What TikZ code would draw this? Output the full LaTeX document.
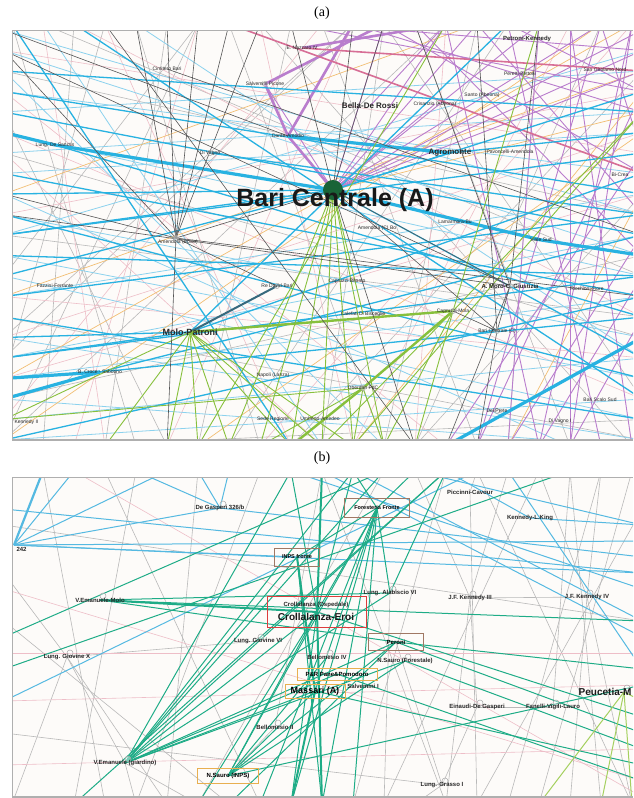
\documentclass[tikz,border=0pt]{standalone}
\usepackage{fontspec}
\setmainfont{Liberation Serif}
\newfontfamily\lsans{Liberation Sans}
\begin{document}
\definecolor{cyA}{RGB}{40,178,225}
\definecolor{cyL}{RGB}{140,210,238}
\definecolor{cyB}{RGB}{85,185,225}
\definecolor{puA}{RGB}{185,125,205}
\definecolor{pkL}{RGB}{238,190,200}
\definecolor{pkA}{RGB}{215,110,150}
\definecolor{orA}{RGB}{242,190,115}
\definecolor{gnA}{RGB}{135,192,60}
\definecolor{gnL}{RGB}{165,208,95}
\definecolor{dgA}{RGB}{85,85,85}
\definecolor{lgA}{RGB}{185,185,185}
\definecolor{teA}{RGB}{30,172,135}
\definecolor{slA}{RGB}{55,105,125}
\definecolor{bgP}{RGB}{253,251,249}
\definecolor{frA}{RGB}{175,175,175}
\definecolor{bcG}{RGB}{25,100,55}
\definecolor{brA}{RGB}{160,120,100}
\definecolor{rdA}{RGB}{220,60,60}
\definecolor{ogA}{RGB}{232,175,80}
\tikzset{
  eca/.style={draw=cyA, line width=3.2pt},
  ecm/.style={draw=cyA, line width=1.3pt},
  ecl/.style={draw=cyL, line width=0.8pt},
  epu/.style={draw=puA, line width=0.9pt},
  epuT/.style={draw=puA, line width=2.6pt},
  epk/.style={draw=pkL, line width=0.6pt},
  epkT/.style={draw=pkA, line width=1.6pt},
  eor/.style={draw=orA, line width=0.7pt},
  egn/.style={draw=gnA, line width=0.9pt},
  egnT/.style={draw=gnA, line width=2.4pt},
  edk/.style={draw=dgA, line width=0.6pt},
  elg/.style={draw=lgA, line width=0.6pt},
  ete/.style={draw=teA, line width=1pt},
  eteT/.style={draw=teA, line width=2pt},
  ecb/.style={draw=cyB, line width=1pt},
  ecbT/.style={draw=cyB, line width=2.2pt},
  egl/.style={draw=gnL, line width=1pt},
  esl/.style={draw=slA, line width=2pt},
  hub/.style={draw=gray!70, line width=0.5pt, fill=white, fill opacity=0.4},
  lbl/.style={font=\lsans\fontsize{5}{6}\selectfont, inner sep=0.3pt, text=black!85},
  lblb/.style={font=\lsans\bfseries\fontsize{6}{7}\selectfont, inner sep=0.3pt, text=black!85},
  lblm/.style={font=\lsans\bfseries\fontsize{8}{9}\selectfont, inner sep=0.3pt, text=black!85},
  lblL/.style={font=\lsans\bfseries\fontsize{10}{11}\selectfont, inner sep=0.3pt, text=black!90},
  bxbr/.style={draw=brA, line width=0.8pt, inner sep=0pt},
  bxrd/.style={draw=rdA, line width=0.9pt, inner sep=0pt},
  bxog/.style={draw=ogA, line width=0.9pt, inner sep=0pt},
  capt/.style={font=\fontsize{14}{16}\selectfont, inner sep=0pt}
}
\begin{tikzpicture}[x=1pt,y=-1pt]
\useasboundingbox (0,0) rectangle (633,798);
\fill[white] (0,0) rectangle (633,798);

\node[capt] (capa) at (322,13) {(a)};
\node[capt] (capb) at (322,458) {(b)};

% border anchors for both panels
\foreach \i in {0,...,20}{
  \coordinate (aT\i) at ({12+31*\i},24);
  \coordinate (aB\i) at ({12+31*\i},446);
  \coordinate (aL\i) at (4,{30+20.5*\i});
  \coordinate (aR\i) at (642,{30+20.5*\i});
  \coordinate (bT\i) at ({12+31*\i},471);
  \coordinate (bB\i) at ({12+31*\i},804);
  \coordinate (bL\i) at (4,{477+16*\i});
  \coordinate (bR\i) at (642,{477+16*\i});
}

% ---------------- panel (a): stations ----------------
\coordinate (bc) at (333,190);
\coordinate (ena) at (302,48);
\coordinate (ptk) at (527,39);
\coordinate (cim) at (167,69);
\coordinate (sal) at (265,84);
\coordinate (dam) at (288,136);
\coordinate (bdr) at (370,106);
\coordinate (cri) at (435,104);
\coordinate (san) at (482,95);
\coordinate (pbe) at (520,74);
\coordinate (sgn) at (605,70);
\coordinate (lds) at (55,145);
\coordinate (dv) at (210,153);
\coordinate (agr) at (450,153);
\coordinate (pam) at (510,152);
\coordinate (bcr) at (620,175);
\coordinate (amc) at (377,228);
\coordinate (lam) at (455,222);
\coordinate (amb) at (176,238);
\coordinate (faf) at (55,286);
\coordinate (rdb) at (277,286);
\coordinate (molo) at (190,332);
\coordinate (bcs) at (100,372);
\coordinate (nap) at (273,375);
\coordinate (ken) at (20,422);
\coordinate (sed) at (273,419);
\coordinate (uma) at (320,419);
\coordinate (cbi) at (347,281);
\coordinate (cdb) at (363,314);
\coordinate (cmo) at (453,311);
\coordinate (bcc) at (497,331);
\coordinate (amo) at (510,286);
\coordinate (rif) at (587,289);
\coordinate (vsu) at (541,240);
\coordinate (obe) at (363,388);
\coordinate (bss) at (600,400);
\coordinate (dpr) at (497,411);
\coordinate (dvi) at (560,421);

\begin{scope}
\clip (12,30) rectangle (633,440);
\fill[bgP] (12,30) rectangle (633,440);
% faint grey mesh
\foreach \p/\q in {aT0/aB4,aT2/aB1,aT4/aB8,aT5/aB3,aT7/aB12,aT9/aB6,aT10/aB15,aT12/aB10,aT13/aB18,aT15/aB12,aT17/aB16,aT19/aB13,aL2/aR9,aL6/aR15,aL10/aR14,aL14/aR20,aL18/aR11,aL4/aB5,aL12/aT6,aL16/aT11,aL20/aT14,aR2/aB9,aR8/aB13,aR18/aT12,aT1/aR12,aT3/aL17,aT6/aL20,aT11/aL15,aB2/aR19,aT8/aB20,aT16/aB7}
  \draw[elg] (\p) -- (\q);
% faint pink mesh
\foreach \p/\q in {aT1/aB3,aT3/aB9,aT6/aB2,aT8/aB11,aT11/aB5,aT14/aB13,aT18/aB11,aL1/aR6,aL5/aR18,aL9/aR3,aL13/aR16,aL17/aR8,aL19/aT10,aT20/aB8,aT2/aR14,aL3/aB14,aL6/aB10,aL15/aR5}
  \draw[epk] (\p) -- (\q);
% light blue lines
\foreach \p/\q in {aL1/aR11,aL3/aR7,aL5/aR12,aL7/aR5,aL9/aR15,aL11/aR17,aL13/aR8,aL15/aR20,aL17/aR13,aL19/aR16,aL0/aR9,aL4/aR2,aL8/aB18,aL12/aR19,aL16/aR10,aL20/aR18,aT4/aR16,aT1/aB10,aL6/aR4,aL18/aB20,aL2/aB12,aL10/aR1}
  \draw[ecl] (\p) -- (\q);
% orange lines
\foreach \p/\q in {aL13/aR2,aL17/aT20,aB6/aR5,aL8/aT15,aB11/aR3,aL20/aT19,aB16/aR8,bc/aR4}
  \draw[eor] (\p) -- (\q);
% lilac lines
\foreach \p/\q in {aT14/aB17,aT16/aB19,aT18/aB18,aT19/aB15,aR10/aB16,aT20/aB18,aR6/aB14,aT12/aR7,aT15/aR9,aT11/aR4,aT17/aB16,aR12/aB17,aR3/aB15,aT13/aR11,aT9/aR3,aT10/aR1,aT20/aB17,aT18/aB20,aR14/aB18,aT16/aR3,aT19/aR6}
  \draw[epu] (\p) -- (\q);
\foreach \t in {aT12,aT14,aT15,aT17,aT19,aR0,aR1,aR2,sal,cri}
  \draw[epu] (bc) -- (\t);
\draw[epuT] (dam) -- (aT11);
\draw[epuT] (sal) -- (aT12);
\draw[epuT] (bc) -- (dam);
\draw[epuT] (sal) -- (dam);
\draw[epuT] (ena) -- (aT14);
\draw[epu] (bdr) -- (aT14);
\draw[epkT] (aT7) -- (aR7);
\draw[epkT] (ena) -- (aR2);
% blue lines
\foreach \p/\q in {aL3/aR8,aL4/aR10,aL7/aR13,aL9/aR17,aL10/aR6,aL13/aR9,aL14/aR19,aL16/aR12,aL20/aR13,aL2/aR4,aT2/aR18,aT0/aB9,aL11/aR12,bc/aL8,bc/aL12,bc/aR3,bc/aR16,bc/aL10,molo/aT16,molo/aR7,molo/aL15,molo/aL16,bcs/aR14,dv/aR9,lds/aR14,agr/aR5,bc/agr,bcs/aR10}
  \draw[ecm] (\p) -- (\q);
\draw[eca] (aL5) -- (lds);
\draw[eca] (lds) -- (bc);
\draw[eca] (dam) -- (agr);
\draw[eca] (bc) -- (vsu);
\draw[eca] (vsu) -- (aR11);
\draw[eca] (bcs) -- (aL17);
\draw[eca] (bcs) -- (aL18);
\draw[eca] (aB14) -- (aR15);
\draw[esl] (molo) -- (rdb);
% green lines
\foreach \t in {aB7,aB8,aB9,aB10,aB11,aB12,cdb}
  \draw[egn] (bc) -- (\t);
\foreach \t in {aB3,aB5,aB6,aB7,aB9,aB10,aB11,aL19}
  \draw[egn] (molo) -- (\t);
\foreach \t in {aB10,aB12,aB13,aT17,aR4}
  \draw[egn] (cmo) -- (\t);
\foreach \t in {aB8,aB11,aB12,aL19}
  \draw[egn] (obe) -- (\t);
\draw[egn] (aT14) -- (aB6);
\draw[egn] (aR4) -- (aB11);
\draw[egnT] (molo) -- (cmo);
\draw[egnT] (cmo) -- (obe);
\draw[egnT] (obe) -- (aB9);
% dark grey lines
\foreach \t in {aT4,aT5,aT6,aT7,aT8,bc,aL8,rdb,aR13,aB5,aL1}
  \draw[edk] (amb) -- (\t);
\foreach \t in {amo,bcc,aT9,aT11,aB13,aT12}
  \draw[edk] (bc) -- (\t);
\foreach \t in {aT13,aT17,bcc,aB14,aL9}
  \draw[edk] (amo) -- (\t);
\draw[edk] (bcc) -- (aB15);
\draw[edk] (bcc) -- (aT15);
\draw[edk] (dam) -- (aL0);
\draw[edk] (aT3) -- (aB13);
\draw[edk] (cim) -- (aR10);
\draw[edk] (aL1) -- (amo);
\draw[edk] (cmo) -- (bcc);
% station rings
\foreach \s in {amb,dv,sal,san,cmo,bcc,amo,obe,rdb,dpr}
  \draw[hub] (\s) circle[radius=2.5pt];
\end{scope}
\draw[frA, line width=0.8pt] (12,440) -- (12,30) -- (633,30);
\draw[frA, line width=1.2pt] (12,440) -- (633,440);

\fill[bcG] (bc) circle[radius=10pt];
\node[font=\lsans\bfseries\fontsize{25}{28}\selectfont, inner sep=0pt, text=black!90] (lbc) at (335,200) {Bari Centrale (A)};
\node[lbl] (lena) at (ena) {E. Nazzaro IV};
\node[lblb] (lptk) at (ptk) {Petroni-Kennedy};
\node[lbl] (lcim) at (cim) {Cimitero Bari};
\node[lbl] (lsal) at (sal) {Salvemini Picone};
\node[lbl] (ldam) at (dam) {Dante-Amodio};
\node[lblm] (lbdr) at (bdr) {Bella-De Rossi};
\node[lbl] (lcri) at (cri) {Crisanzio (Abeona)};
\node[lbl] (lsan) at (san) {Santo (Abeona)};
\node[lbl] (lpbe) at (pbe) {Peretti-Bettoni};
\node[lbl] (lsgn) at (sgn) {San Girolamo Nord};
\node[lbl] (llds) at (lds) {Lung. De Sanctis};
\node[lbl] (ldv) at (dv) {Di Vagno};
\node[lblm] (lagr) at (agr) {Agromonte};
\node[lbl] (lpam) at (pam) {Pavoncelli-Amendola};
\node[lbl] (lbcr) at (bcr) {Bi-Crea};
\node[lbl] (lamc) at (amc) {Amendola (C) Bo};
\node[lbl] (llam) at (lam) {Lamarmora-Bu};
\node[lbl] (lamb) at (178,242) {Amendola (Bovio)};
\node[lbl] (lfaf) at (faf) {Fazzini-Ferrante};
\node[lbl] (lrdb) at (rdb) {Re David-Bari};
\node[font=\lsans\bfseries\fontsize{9}{10}\selectfont, inner sep=0.3pt, text=black!85] (lmolo) at (molo) {Molo-Patroni};
\node[lbl] (lbcs) at (bcs) {B. Croce - Sabotino};
\node[lbl] (lnap) at (nap) {Napoli (Lanza)};
\node[lbl, anchor=west] (lken) at (14,422) {Kennedy II};
\node[lbl] (lsed) at (sed) {Sede Regione};
\node[lbl] (luma) at (uma) {Umberto-Amedeo};
\node[lbl] (lcbi) at (cbi) {Capruzzi-Bitonto};
\node[lbl] (lcdb) at (cdb) {Calefati Di Bisceglie};
\node[lbl] (lcmo) at (cmo) {Capruzzi-Mola};
\node[lbl] (lbcc) at (bcc) {Bari Centrale (C)};
\node[lblb] (lamo) at (amo) {A. Moro-C. Giustizia};
\node[lbl] (lrif) at (rif) {Ricchioni-Fiore};
\node[lbl] (lvsu) at (vsu) {Viale Sud};
\node[lbl] (lobe) at (obe) {Oberdan PdC};
\node[lbl] (lbss) at (bss) {Bari Scalo Sud};
\node[lbl] (ldpr) at (dpr) {Del Prete};
\node[lbl] (ldvi) at (dvi) {Di Vagno I};

% ---------------- panel (b): stations ----------------
\coordinate (dgs) at (220,508);
\coordinate (n242) at (14,545);
\coordinate (inps) at (297,557);
\coordinate (ffr) at (377,508);
\coordinate (pci) at (470,492);
\coordinate (kki) at (530,518);
\coordinate (la6) at (390,593);
\coordinate (jk3) at (470,598);
\coordinate (jk4) at (587,597);
\coordinate (cro) at (317,612);
\coordinate (vem) at (100,600);
\coordinate (lg6) at (258,641);
\coordinate (lgx) at (67,657);
\coordinate (per) at (396,642);
\coordinate (bel4) at (327,657);
\coordinate (nsf) at (405,661);
\coordinate (ppo) at (337,674);
\coordinate (sal1) at (363,686);
\coordinate (mas) at (315,691);
\coordinate (peu) at (624,692);
\coordinate (edg) at (477,707);
\coordinate (fvl) at (553,707);
\coordinate (bel2) at (275,727);
\coordinate (veg) at (125,763);
\coordinate (nsi) at (228,776);
\coordinate (lg1) at (442,785);

\begin{scope}
\clip (12,477) rectangle (633,797);
\fill[bgP] (12,477) rectangle (633,797);
\foreach \p/\q in {bT4/bB2,bT6/bB5,bT1/bB3,bT3/bB8,bT8/bB4,bT12/bB6,bT14/bB11,bT17/bB12,bT19/bB16,bL3/bR9,bL9/bB7,bT10/bB14,bT15/bB20,bT20/bB17,bR2/bB15,bT18/bB19,lgx/bB0,lgx/veg,lgx/lg6,lgx/bB5,lgx/bL6,veg/bB4,veg/bB6,jk3/bT13,jk3/bT16,jk3/edg,jk3/jk4,jk3/bB14,jk4/bT19,jk4/bB18,jk4/bB20,jk4/bT17,edg/lg1,edg/fvl,fvl/bT18,lg1/bB13,lg1/per,lg1/bL16,pci/bT15,pci/bB15,bel2/nsi,bel2/bT10,la6/bB12}
  \draw[elg] (\p) -- (\q);
\foreach \p/\q in {bL11/bR11,bL18/bR17,bL14/bR13,bT2/bR20,bL7/bR19}
  \draw[epk] (\p) -- (\q);
\foreach \p/\q in {n242/dgs,n242/bT2,n242/bT5,n242/bR4,n242/bR6,n242/inps,dgs/bT6,dgs/bT7,dgs/bT4,dgs/bR5,bL2/bR6,bT10/bR10,bT13/bR3,bT15/bL14,kki/bT14,kki/bR3,bT9/bR7,bT11/bR9,bT16/bR12}
  \draw[ecb] (\p) -- (\q);
\draw[ecbT] (n242) -- (bT1);
\foreach \t in {la6,per,bR9}
  \draw[ete] (vem) -- (\t);
\foreach \t in {cro,inps,per,nsf,la6,bT9,bT11,bT12,mas,ppo,bT14}
  \draw[ete] (veg) -- (\t);
\foreach \t in {cro,per,nsf,mas,bel4,ffr,bR13}
  \draw[ete] (nsi) -- (\t);
\foreach \t in {cro,mas,bB9,bB10,bB8,inps,bB11,bT11,bT13}
  \draw[ete] (ffr) -- (\t);
\foreach \p/\q in {inps/bB10,cro/bB9,cro/bT11,cro/bT9,per/bR16,nsf/bR17,mas/bR18,cro/bR15,ppo/bR19,per/bR12,bB2/bT14,bL12/bT18,bL10/bT12,la6/bT14,la6/ffr,bB6/cro,bB7/per}
  \draw[ete] (\p) -- (\q);
\draw[eteT] (vem) -- (cro);
\draw[eteT] (inps) -- (mas);
\draw[eteT] (cro) -- (bB10);
\draw[eteT] (mas) -- (bB9);
\draw[eteT] (cro) -- (bT10);
\foreach \t in {bB17,bB19,bB20,bR14}
  \draw[egl] (peu) -- (\t);
\foreach \s in {vem,lgx,lg6,jk3,jk4,dgs,edg,fvl,peu,lg1,nsf,la6,bel2,veg,bel4}
  \draw[hub] (\s) ++(3,-4) circle[radius=3pt];
\end{scope}
\draw[frA, line width=0.8pt] (12,797) -- (12,477) -- (633,477);
\draw[frA, line width=1.2pt] (12,797) -- (633,797);

\node[lblb] (ldgs) at (dgs) {De Gasperi 326/b};
\node[lblb, anchor=west] (ln242) at (16,549) {242};
\node[bxbr, minimum width=45pt, minimum height=18pt, font=\lsans\bfseries\fontsize{5.5}{6}\selectfont] (linps) at (inps) {INPS fronte};
\node[bxbr, minimum width=65pt, minimum height=19pt, font=\lsans\bfseries\fontsize{5.5}{6}\selectfont] (lffr) at (ffr) {Foresteria Fronte};
\node[lblb] (lpci) at (pci) {Piccinni-Cavour};
\node[lblb] (lkki) at (kki) {Kennedy-L.King};
\node[lblb] (lla6) at (la6) {Lung. Alabiscio VI};
\node[lblb] (ljk3) at (jk3) {J.F. Kennedy III};
\node[lblb] (ljk4) at (jk4) {J.F. Kennedy IV};
\node[bxrd, minimum width=99pt, minimum height=31pt] (lcrobox) at (cro) {};
\node[lblb] (lcro1) at (316,605) {Crollalanza (Ospedale)};
\node[lblL] (lcro) at (316,617) {Crollalanza-Eroi};
\node[lblb] (lvem) at (vem) {V.Emanuele-Molo};
\node[lblb] (llg6) at (lg6) {Lung. Giovine VI};
\node[lblb] (llgx) at (lgx) {Lung. Giovine X};
\node[bxbr, minimum width=55pt, minimum height=17pt, font=\lsans\bfseries\fontsize{6}{7}\selectfont] (lper) at (per) {Peroni};
\node[lblb] (lbel4) at (bel4) {Bellomesio IV};
\node[lblb] (lnsf) at (nsf) {N.Sauro (Forestale)};
\node[bxog, minimum width=80pt, minimum height=12pt, font=\lsans\bfseries\fontsize{6}{7}\selectfont] (lppo) at (ppo) {P\&R Pane\&Pomodoro};
\node[lblb] (lsal1) at (sal1) {Salvemini I};
\node[bxog, minimum width=60pt, minimum height=14pt, font=\lsans\bfseries\fontsize{9}{10}\selectfont] (lmas) at (mas) {Massari (A)};
\node[lblL, anchor=east] (lpeu) at (632,692) {Peucetia-M};
\node[lblb] (ledg) at (edg) {Einaudi-De Gasperi};
\node[lblb] (lfvl) at (fvl) {Fanelli-Vigili-Lauro};
\node[lblb] (lbel2) at (bel2) {Bellomesio II};
\node[lblb] (lveg) at (veg) {V.Emanuele (giardino)};
\node[bxog, minimum width=61pt, minimum height=15pt, font=\lsans\bfseries\fontsize{6}{7}\selectfont] (lnsi) at (nsi) {N.Sauro (INPS)};
\node[lblb] (llg1) at (lg1) {Lung. Grasso I};
\end{tikzpicture}
\end{document}
